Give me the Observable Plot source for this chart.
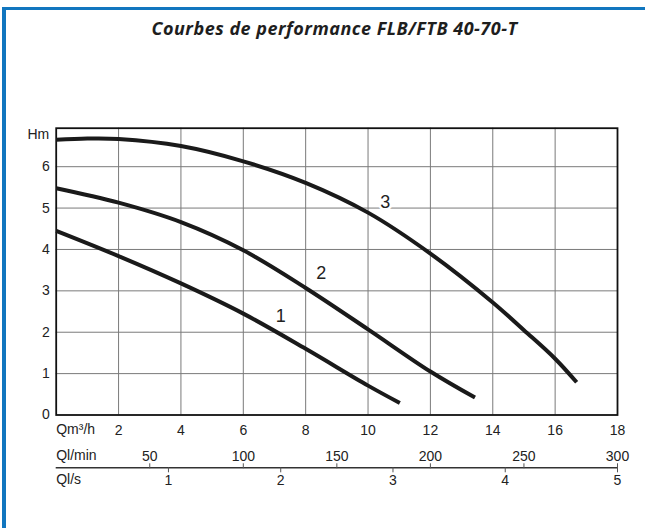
<!DOCTYPE html>
<html>
<head>
<meta charset="utf-8">
<script src="https://cdn.jsdelivr.net/npm/d3@7"></script>
<script src="https://cdn.jsdelivr.net/npm/@observablehq/plot@0.6"></script>
<style>
  html, body { margin: 0; padding: 0; background: #fff; overflow: hidden; }
  #page { position: relative; width: 645px; height: 528px; overflow: hidden; background: #fff; }
  #border { position: absolute; left: 2px; top: 7px; width: 700px; height: 600px;
            border-top: 3px solid #1176bf; border-left: 4px solid #1176bf; }
  #title { position: absolute; left: 0; top: 19px; width: 669px; text-align: center;
           font-family: "Open Sans", sans-serif; font-style: italic; font-weight: 700;
           font-size: 18px; letter-spacing: 0.5px; line-height: 1; color: #1e1e1e; white-space: nowrap; }
  #chart { position: absolute; left: 0; top: 60px; }
</style>
</head>
<body>
<div id="page">
  <div id="border"></div>
  <div id="title"></div>
  <div id="chart"></div>
</div>
<script>
// ---- data ----
const titleText = "Courbes de performance FLB/FTB 40-70-T";

// curve 1
const q1 = [0, 2, 4, 6, 8, 10, 11.02];
const h1 = [4.45, 3.84, 3.18, 2.45, 1.60, 0.71, 0.29];
// curve 2
const q2 = [0, 2, 4, 6, 8, 10, 12, 13.43];
const h2 = [5.48, 5.13, 4.66, 3.98, 3.07, 2.07, 1.05, 0.42];
// curve 3
const q3 = [0, 1, 2, 4, 6, 8, 10, 12, 14, 15, 16, 16.69];
const h3 = [6.65, 6.68, 6.67, 6.50, 6.13, 5.61, 4.89, 3.90, 2.72, 2.05, 1.36, 0.79];

// curve labels
const curveNames = ["1", "2", "3"];
const labelQ = [7.2, 8.5, 10.55];
const labelH = [2.38, 3.42, 5.14];

// axes
const qm3hTicks = [2, 4, 6, 8, 10, 12, 14, 16, 18];
const qlminTicks = [50, 100, 150, 200, 250, 300];
const qlsTicks = [1, 2, 3, 4, 5];
const hmTicks = [0, 1, 2, 3, 4, 5, 6];
const gridQ = [2, 4, 6, 8, 10, 12, 14, 16];
const gridH = [1, 2, 3, 4, 5, 6];
const axisNames = ["Qm³/h", "Ql/min", "Ql/s"];
const yName = "Hm";

// unit conversions to m³/h
const LMIN_TO_M3H = 0.06;
const LS_TO_M3H = 3.6;

const curves = [
  ...q1.map((q, i) => ({curve: "1", q, h: h1[i]})),
  ...q2.map((q, i) => ({curve: "2", q, h: h2[i]})),
  ...q3.map((q, i) => ({curve: "3", q, h: h3[i]}))
];
const labels = curveNames.map((t, i) => ({t, q: labelQ[i], h: labelH[i]}));

document.getElementById("title").textContent = titleText;

const lineY = 52.8; // offset of the secondary flow scale below the frame
const chart = Plot.plot({
  width: 645,
  height: 468,
  marginLeft: 55.7,
  marginRight: 28,
  marginTop: 67.7,
  marginBottom: 113.5,
  style: {fontFamily: "'Liberation Sans', Arial, sans-serif", fontSize: "14px", color: "#222", background: "transparent"},
  x: {domain: [0, 18]},
  y: {domain: [0, 6.93]},
  marks: [
    Plot.gridX(gridQ, {stroke: "#7a7a7a", strokeOpacity: 1, strokeWidth: 1}),
    Plot.gridY(gridH, {stroke: "#7a7a7a", strokeOpacity: 1, strokeWidth: 1}),
    Plot.frame({stroke: "#111", strokeWidth: 1.8}),
    Plot.axisY(hmTicks, {tickSize: 0, tickPadding: 6.5, label: null, fill: "#222"}),
    Plot.axisX(qm3hTicks, {anchor: "bottom", tickSize: 0, tickPadding: 10, label: null, fill: "#222"}),
    Plot.ruleY([0], {dy: lineY, stroke: "#333", strokeWidth: 1.5}),
    Plot.axisX(qlminTicks.map(v => v * LMIN_TO_M3H), {
      anchor: "top", dy: lineY + 286.8, tickSize: 5, tickPadding: 2.3, label: null,
      stroke: "#555", fill: "#222", tickFormat: d => String(Math.round(d / LMIN_TO_M3H))
    }),
    Plot.axisX(qlsTicks.map(v => v * LS_TO_M3H), {
      anchor: "bottom", dy: lineY, tickSize: 5, tickPadding: 2, label: null,
      stroke: "#555", fill: "#222", tickFormat: d => String(Math.round(d / LS_TO_M3H))
    }),
    Plot.text([axisNames[0]], {frameAnchor: "bottom-left", text: d => d, textAnchor: "start", lineAnchor: "middle", dy: 15, fill: "#222", fontSize: 14, style: "letter-spacing:1px"}),
    Plot.text([axisNames[1]], {frameAnchor: "bottom-left", text: d => d, textAnchor: "start", lineAnchor: "middle", dy: 40.2, fill: "#222", fontSize: 14}),
    Plot.text([axisNames[2]], {frameAnchor: "bottom-left", text: d => d, textAnchor: "start", lineAnchor: "middle", dy: 64.8, fill: "#222", fontSize: 14}),
    Plot.text([yName], {frameAnchor: "top-left", text: d => d, textAnchor: "end", lineAnchor: "middle", dx: -7, dy: 6, fill: "#222", fontSize: 14}),
    Plot.line(curves, {x: "q", y: "h", z: "curve", curve: "catmull-rom", stroke: "#1a1a1a", strokeWidth: 4, strokeLinecap: "butt"}),
    Plot.text(labels, {x: "q", y: "h", text: "t", fontSize: 18, fill: "#222", stroke: "white", strokeWidth: 5, paintOrder: "stroke"})
  ]
});
document.getElementById("chart").appendChild(chart);
</script>
</body>
</html>
